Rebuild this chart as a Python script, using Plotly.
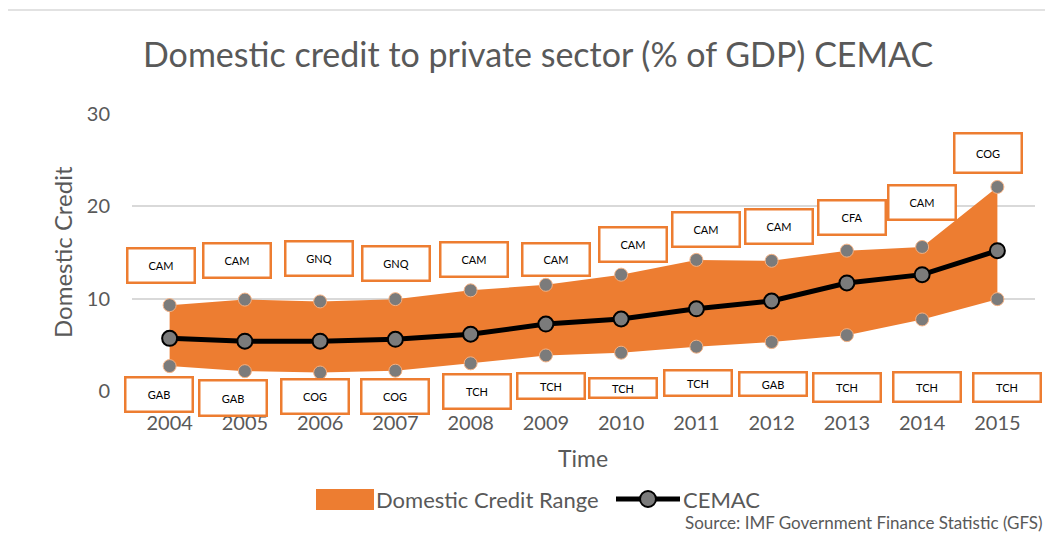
import plotly.graph_objects as go

years = ["2004", "2005", "2006", "2007", "2008", "2009", "2010", "2011", "2012", "2013", "2014", "2015"]
range_max = [9.3, 9.9, 9.7, 9.95, 10.9, 11.5, 12.6, 14.2, 14.1, 15.2, 15.6, 22.1]
range_min = [2.7, 2.15, 2.0, 2.2, 3.0, 3.85, 4.15, 4.8, 5.3, 6.05, 7.75, 9.95]
cemac = [5.7, 5.4, 5.4, 5.6, 6.15, 7.25, 7.8, 8.9, 9.75, 11.7, 12.6, 15.2]
max_country = ["CAM", "CAM", "GNQ", "GNQ", "CAM", "CAM", "CAM", "CAM", "CAM", "CFA", "CAM", "COG"]
min_country = ["GAB", "GAB", "COG", "COG", "TCH", "TCH", "TCH", "TCH", "GAB", "TCH", "TCH", "TCH"]

# label box placement (pixels, relative to the data point)
max_xshift = [-8.5, -8, -1.5, 1, 3, 10, 12, 10, 7, 5, 0, -9]
max_yshift = [39.5, 39.5, 43, 36, 31, 25.5, 30.5, 30.5, 34, 33, 44, 34]
max_h = [37, 37, 37, 37, 37, 35, 37, 37, 37, 37, 37, 42]
min_xshift = [-11, -11.5, -5, 0, 6, 5, 2, 2, 1, 0, 4.5, 10]
min_yshift = [-28, -27, -24, -26, -28, -31, -35, -36, -42, -52, -68, -88.5]
min_h = [37, 38, 37, 37, 37, 28, 22, 28, 26, 31, 32, 31]

ORANGE = "#ED7D31"
GRAY = "#7B7B7B"
TXT = "#595959"
FONT = "Lato"

fig = go.Figure()
fig.add_trace(go.Scatter(x=years, y=range_min, mode="lines", line=dict(width=0, color=ORANGE),
                         showlegend=False, hoverinfo="skip"))
fig.add_trace(go.Scatter(x=years, y=range_max, mode="lines", line=dict(width=0, color=ORANGE),
                         fill="tonexty", fillcolor=ORANGE, name="Domestic Credit Range", showlegend=False))
fig.add_trace(go.Scatter(x=years, y=range_max, mode="markers", showlegend=False,
                         marker=dict(size=13, color=GRAY, line=dict(width=1, color="#F4B183"))))
fig.add_trace(go.Scatter(x=years, y=range_min, mode="markers", showlegend=False,
                         marker=dict(size=13, color=GRAY, line=dict(width=1, color="#F4B183"))))
fig.add_trace(go.Scatter(x=years, y=cemac, mode="lines+markers", name="CEMAC", showlegend=False,
                         line=dict(width=5, color="black"),
                         marker=dict(size=15, color=GRAY, line=dict(width=2, color="black"))))

def px_x(sx):  # screen px -> paper x (plot area 132..1035 on screen)
    return (sx - 132) / 903

def px_y(sy):  # screen px -> paper y (plot area 114..391 on screen)
    return (391 - sy) / 277

anns = []
for i in range(len(years)):
    for txt, val, xs, ys, h in ((max_country[i], range_max[i], max_xshift[i], max_yshift[i], max_h[i]),
                                (min_country[i], range_min[i], min_xshift[i], min_yshift[i], min_h[i])):
        anns.append(dict(x=i, y=val, xref="x", yref="y", text=txt, showarrow=False,
                         xshift=xs, yshift=ys, width=65, height=h - 5, borderpad=0,
                         bordercolor=ORANGE, borderwidth=2.5, bgcolor="white",
                         font=dict(family=FONT, size=11, color="black"), align="center", valign="middle"))

anns.append(dict(text="Time", xref="paper", yref="paper", x=px_x(583), y=px_y(458),
                 showarrow=False, font=dict(family=FONT, size=23, color=TXT), xanchor="center", yanchor="middle"))
anns.append(dict(text="Domestic Credit", xref="paper", yref="paper", x=px_x(62), y=px_y(252),
                 showarrow=False, textangle=-90, font=dict(family=FONT, size=24, color=TXT),
                 xanchor="center", yanchor="middle"))
anns.append(dict(text="Source: IMF Government Finance Statistic (GFS)", xref="paper", yref="paper",
                 x=px_x(1045), y=px_y(522), showarrow=False,
                 font=dict(family=FONT, size=17, color=TXT), xanchor="right", yanchor="middle"))
# legend (drawn manually)
anns.append(dict(text="Domestic Credit Range", xref="paper", yref="paper", x=px_x(374), y=px_y(499),
                 showarrow=False, font=dict(family=FONT, size=22, color=TXT), xanchor="left", yanchor="middle"))
anns.append(dict(text="CEMAC", xref="paper", yref="paper", x=px_x(681), y=px_y(499),
                 showarrow=False, font=dict(family=FONT, size=22, color=TXT), xanchor="left", yanchor="middle"))

shapes = [
    dict(type="rect", xref="paper", yref="paper", x0=px_x(5), x1=1.3, y0=-1.0, y1=px_y(10),
         line=dict(color="#D9D9D9", width=1.5), layer="below"),
    dict(type="rect", xref="paper", yref="paper", x0=px_x(316), x1=px_x(374), y0=px_y(510), y1=px_y(489),
         line=dict(width=0), fillcolor=ORANGE),
    dict(type="line", xref="paper", yref="paper", x0=px_x(616), x1=px_x(680), y0=px_y(499), y1=px_y(499),
         line=dict(color="black", width=5)),
    dict(type="circle", xref="paper", yref="paper", x0=px_x(640), x1=px_x(656), y0=px_y(507), y1=px_y(491),
         line=dict(color="black", width=2), fillcolor=GRAY),
]

fig.update_layout(
    width=1053, height=534,
    margin=dict(l=124, r=26, t=106, b=151),
    paper_bgcolor="white", plot_bgcolor="white",
    title=dict(text="Domestic credit to private sector (% of GDP) CEMAC", x=(143 - 8) / 1053, xanchor="left",
               y=1 - (55 - 8) / 534, yanchor="middle", font=dict(family=FONT, size=34, color=TXT)),
    xaxis=dict(type="category", range=[-0.5, 11.5], showgrid=False, zeroline=False, showline=False, ticks="",
               tickfont=dict(family=FONT, size=20, color=TXT), ticklabelstandoff=18),
    yaxis=dict(range=[0, 30], dtick=10, showgrid=True, gridcolor="#D9D9D9", gridwidth=1.5,
               zeroline=False, showline=False, ticks="",
               tickfont=dict(family=FONT, size=20, color=TXT), ticklabelstandoff=21),
    showlegend=False,
    annotations=anns,
    shapes=shapes,
)

fig.write_html("out.html")
